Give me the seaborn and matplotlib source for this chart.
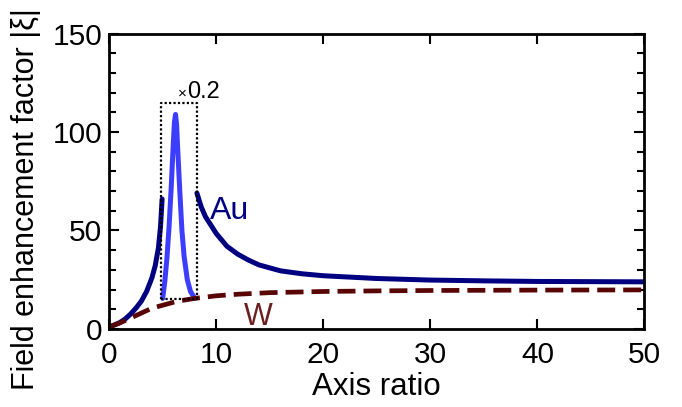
import numpy as np
import pandas as pd
import matplotlib
matplotlib.use("Agg")
import matplotlib.pyplot as plt
import seaborn as sns

# Au, below the resonance
au_low_x = [0, 0.5, 1, 1.5, 2, 2.5, 3, 3.5, 4, 4.3, 4.6, 4.8, 4.95]
au_low_y = [1, 2, 3.2, 5, 7.5, 10.5, 14, 19, 26, 32, 41, 52, 66]
# Au, above the resonance
au_high_x = [8.2, 8.6, 9, 10, 11, 12, 13, 14, 16, 18, 20, 25, 30, 35, 40, 45, 50]
au_high_y = [69, 62, 57, 48.5, 42, 38, 35, 32.5, 29.5, 28, 27, 25.6, 24.8, 24.4, 24.1, 24, 23.9]
# resonance peak, scaled x0.2
peak_x = [5.0, 5.2, 5.4, 5.6, 5.8, 6.0, 6.1, 6.2, 6.3, 6.4, 6.6, 6.8, 7.0, 7.3, 7.6, 8.0]
peak_y = [15.5, 24, 36, 52, 72, 95, 105, 109, 104, 92, 70, 50, 37, 25, 19, 15.5]
# W
w_x = [0, 1, 2, 3, 4, 5, 6, 7, 8, 10, 12, 15, 20, 25, 30, 40, 50]
w_y = [1, 3, 5.5, 8, 10.5, 12, 13.5, 14.6, 15.5, 16.8, 17.6, 18.4, 19, 19.3, 19.5, 19.7, 19.8]

box_x = [4.85, 8.2]
box_y = [15.3, 115]

sns.set_style("ticks")
plt.rcParams["font.family"] = ["Liberation Sans", "DejaVu Sans"]
plt.rcParams["text.color"] = "black"
plt.rcParams["axes.labelcolor"] = "black"
plt.rcParams["xtick.color"] = "black"
plt.rcParams["ytick.color"] = "black"
plt.rcParams["axes.edgecolor"] = "black"

fig = plt.figure(figsize=(6.82, 4.07), dpi=100)
ax = fig.add_axes([0.160, 0.192, 0.785, 0.725])

navy = "#000080"
sns.lineplot(x=au_low_x, y=au_low_y, ax=ax, color=navy, lw=3.6)
sns.lineplot(x=au_high_x, y=au_high_y, ax=ax, color=navy, lw=3.6)
sns.lineplot(x=peak_x, y=peak_y, ax=ax, color="#3d3dff", lw=3.6)
sns.lineplot(x=w_x, y=w_y, ax=ax, color="#5a0505", lw=3.4)
ax.lines[-1].set_dashes([3.8, 1.7])

# dotted box around the scaled peak
bx = [box_x[0], box_x[1], box_x[1], box_x[0], box_x[0]]
by = [box_y[0], box_y[0], box_y[1], box_y[1], box_y[0]]
ax.plot(bx, by, color="black", lw=1.6, ls=(0, (1, 1)))

ax.text(6.4, 117.5, "\u00d7", fontsize=11, ha="left", va="baseline")
ax.text(7.3, 117.5, "0.2", fontsize=17, ha="left", va="baseline")
ax.text(9.4, 56, "Au", fontsize=23, color=navy, ha="left", va="baseline")
ax.text(12.6, 2, "W", fontsize=22, color="#6b2020", ha="left", va="baseline")

ax.set_xlim(0, 50)
ax.set_ylim(0, 150)
ax.set_xticks([0, 10, 20, 30, 40, 50])
ax.set_yticks([0, 50, 100, 150])
ax.set_yticks(np.arange(0, 151, 10), minor=True)
ax.tick_params(direction="in", top=True, right=True, labelsize=21.5, length=7, width=1.5, pad=5)
ax.tick_params(axis="x", pad=9)
ax.tick_params(which="minor", direction="in", right=True, length=5, width=1.5)
for s in ax.spines.values():
    s.set_linewidth(2)
ax.set_xlabel("Axis ratio", fontsize=22.5, labelpad=2)
ax.set_ylabel("Field enhancement factor |\u03be|", fontsize=22)
ax.yaxis.set_label_coords(-0.128, 0.44)

fig.savefig("out.png", dpi=100)
